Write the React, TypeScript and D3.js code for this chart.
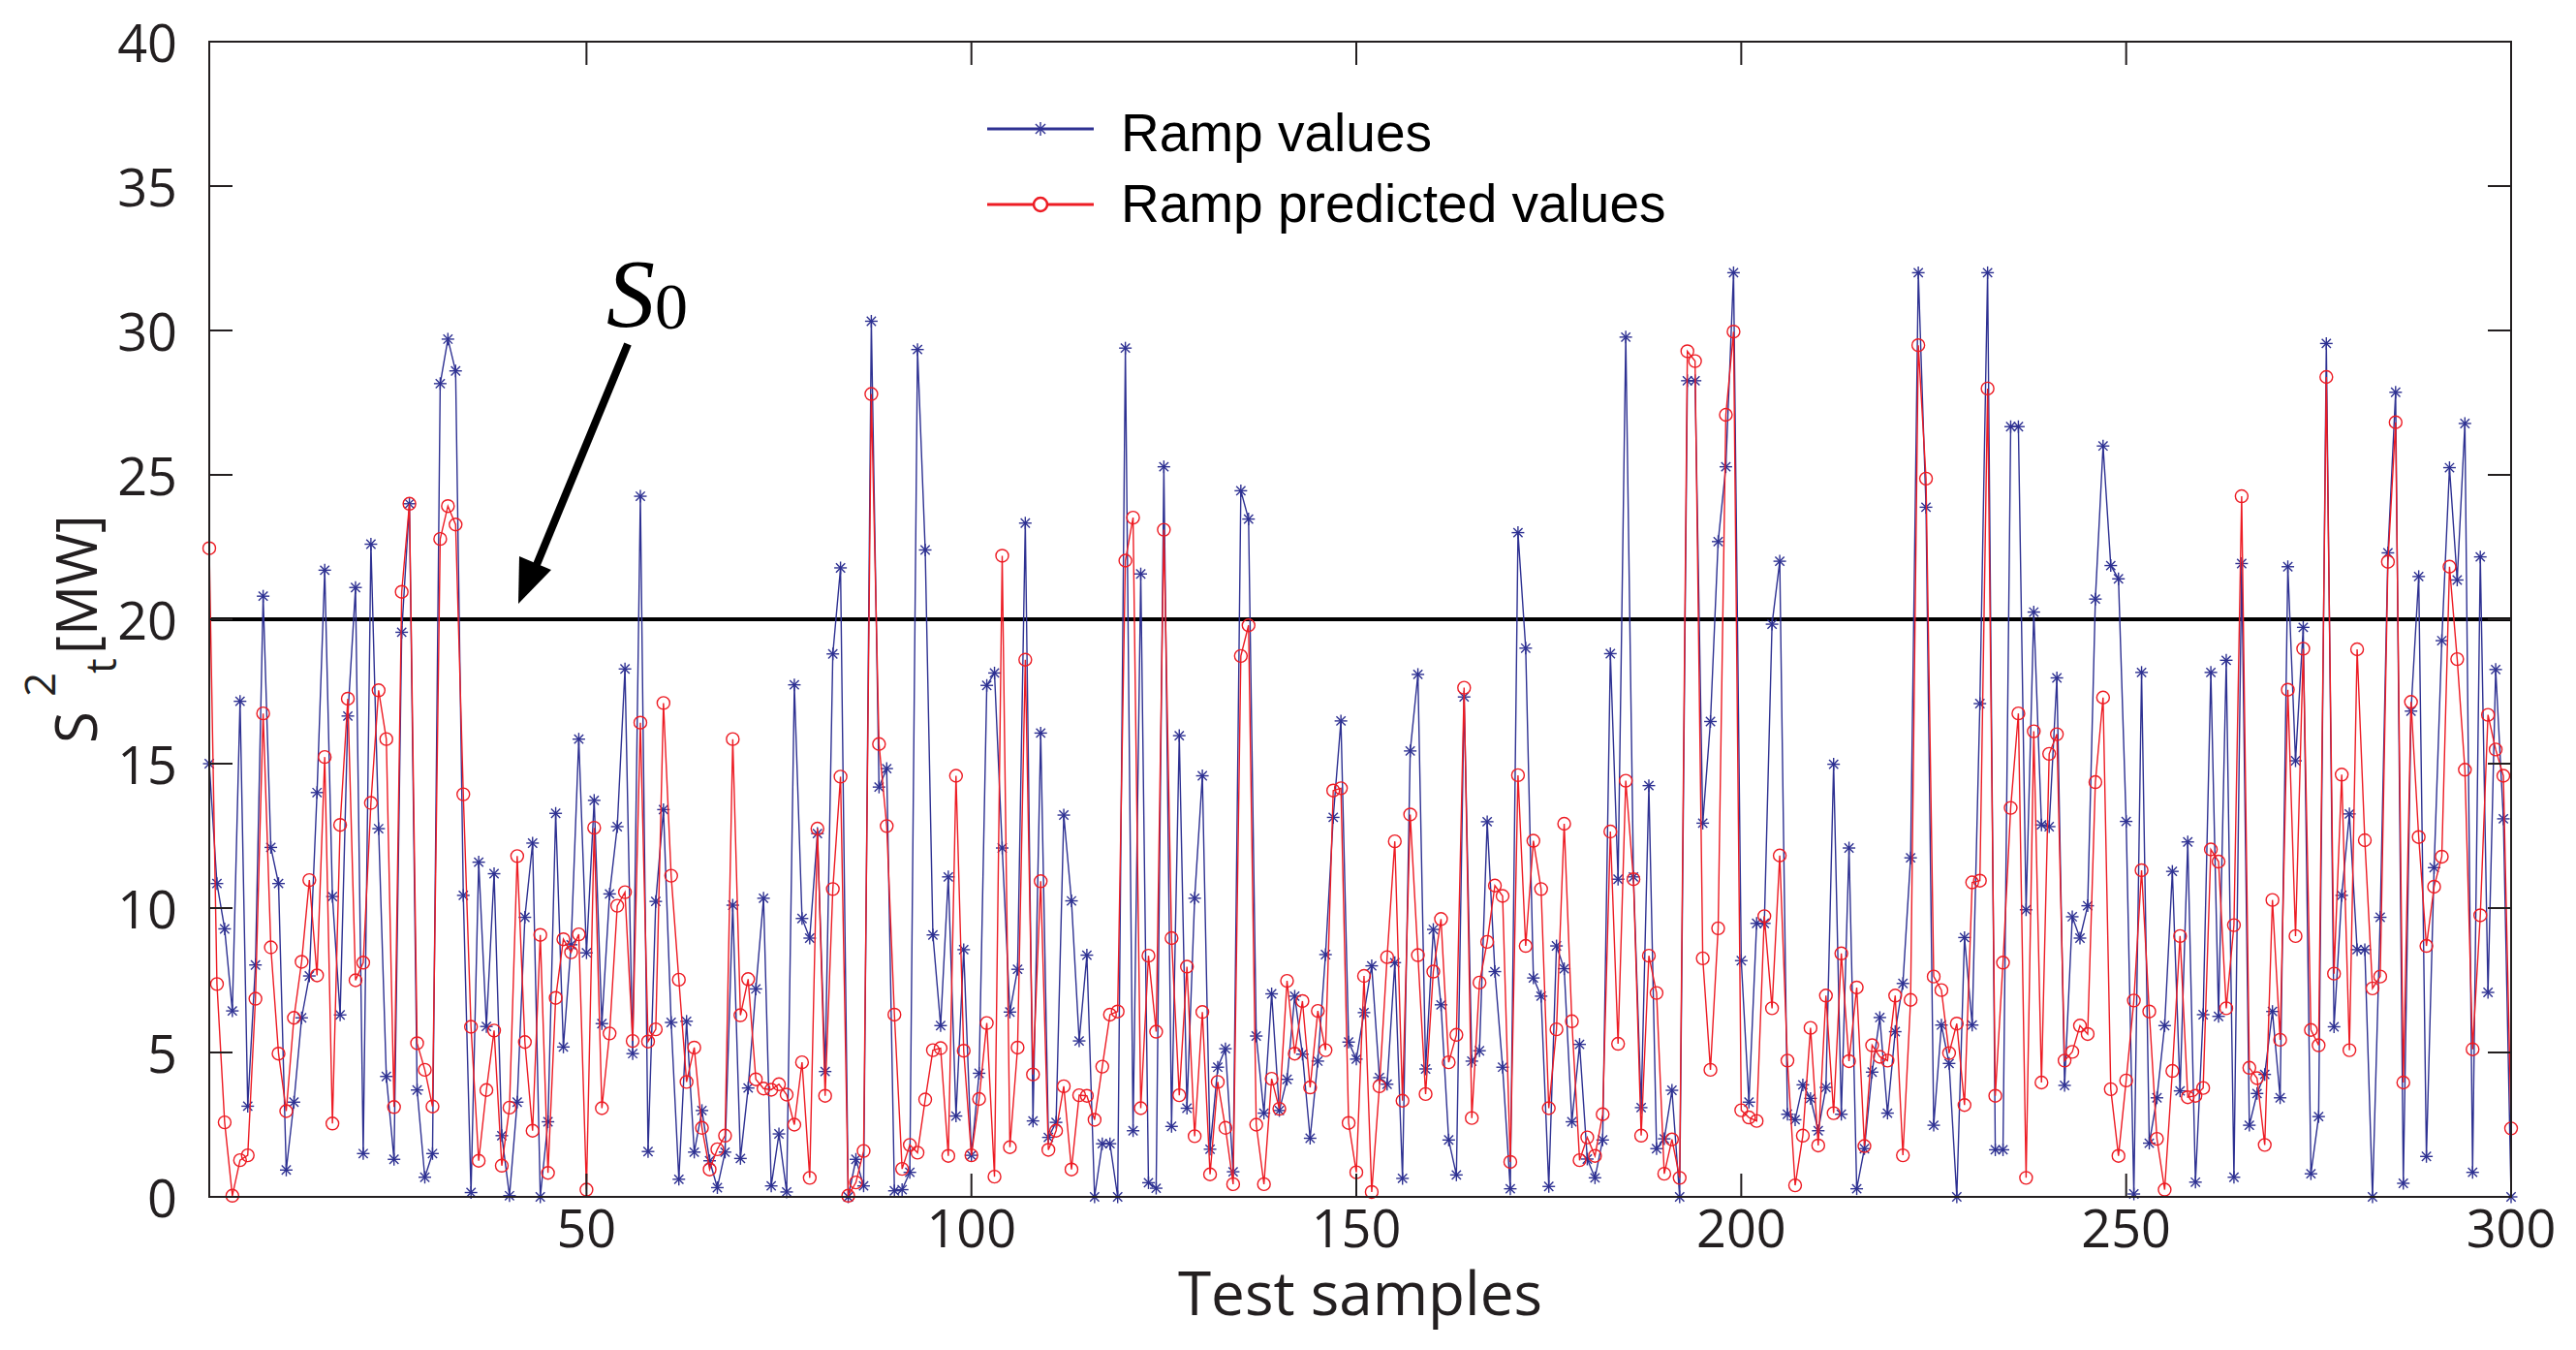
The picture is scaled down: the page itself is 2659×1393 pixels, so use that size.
import React from "react";
import * as d3 from "d3";

const rampValues: number[] = [
  15.0, 10.85, 9.28, 6.44, 17.16, 3.14, 8.03, 20.8, 12.1, 10.85, 0.93, 3.28, 6.2, 7.65, 14.0, 21.7, 10.4, 6.3, 16.65, 21.1, 1.5, 22.6, 12.75, 4.17, 1.3, 19.55, 24.0, 3.7, 0.68, 1.5,
  28.16, 29.7, 28.6, 10.44, 0.15, 11.59, 5.9, 11.19, 2.12, 0.04, 3.28, 9.68, 12.25, 0, 2.6, 13.28, 5.19, 8.73, 15.85, 8.45, 13.73, 6.0, 10.49, 12.82, 18.28, 4.96, 24.26, 1.57, 10.23, 13.41,
  6.04, 0.61, 6.08, 1.55, 2.99, 1.25, 0.32, 1.55, 10.1, 1.33, 3.77, 7.2, 10.34, 0.38, 2.18, 0.17, 17.73, 9.64, 8.96, 12.58, 4.34, 18.8, 21.78, 0, 1.3, 0.38, 30.32, 14.19, 14.83, 0.21,
  0.25, 0.85, 29.34, 22.4, 9.07, 5.93, 11.08, 2.8, 8.56, 1.44, 4.28, 17.71, 18.14, 12.08, 6.4, 7.88, 23.33, 2.63, 16.06, 2.06, 2.58, 13.22, 10.25, 5.4, 8.37, 0, 1.84, 1.84, 0, 29.39,
  2.29, 21.57, 0.49, 0.3, 25.28, 2.44, 15.97, 3.07, 10.34, 14.58, 1.65, 4.49, 5.13, 0.87, 24.45, 23.47, 5.57, 2.9, 7.03, 2.99, 4.07, 6.95, 4.94, 2.03, 4.7, 8.39, 13.14, 16.48, 5.36, 4.77,
  6.38, 8.0, 4.13, 3.9, 8.11, 0.64, 15.44, 18.09, 4.43, 9.26, 6.65, 1.97, 0.76, 17.31, 4.7, 5.06, 12.99, 7.8, 4.49, 0.28, 23.0, 19.0, 7.58, 6.95, 0.36, 8.69, 7.9, 2.6, 5.28, 1.31,
  0.66, 1.97, 18.81, 11.0, 29.77, 11.08, 3.09, 14.24, 1.67, 2.01, 3.69, 0, 28.26, 28.26, 12.94, 16.46, 22.69, 25.28, 32.0, 8.18, 3.28, 9.47, 9.47, 19.83, 22.01, 2.86, 2.67, 3.88, 3.41, 2.29,
  3.79, 14.98, 2.86, 12.08, 0.28, 1.67, 4.32, 6.21, 2.9, 5.72, 7.39, 11.74, 32.0, 23.88, 2.48, 5.95, 4.62, 0, 8.98, 5.95, 17.08, 32.0, 1.63, 1.63, 26.67, 26.67, 9.94, 20.25, 12.88, 12.82,
  17.97, 3.86, 9.7, 8.96, 10.08, 20.7, 26.0, 21.86, 21.4, 13.0, 0.1, 18.16, 1.86, 3.43, 5.93, 11.27, 3.67, 12.29, 0.51, 6.31, 18.16, 6.25, 18.58, 0.68, 21.93, 2.48, 3.58, 4.24, 6.42, 3.43,
  21.82, 15.1, 19.72, 0.8, 2.78, 29.55, 5.89, 10.44, 13.26, 8.56, 8.56, 0, 9.68, 22.3, 27.86, 0.47, 16.82, 21.48, 1.4, 11.4, 19.26, 25.25, 21.36, 26.78, 0.85, 22.16, 7.08, 18.26, 13.09, 0,
];

const predictedValues: number[] = [
  22.46, 7.37, 2.58, 0.04, 1.27, 1.44, 6.86, 16.74, 8.64, 4.96, 2.97, 6.2, 8.14, 10.97, 7.67, 15.23, 2.54, 12.88, 17.25, 7.5, 8.11, 13.64, 17.54, 15.85, 3.11, 20.95, 24.0, 5.32, 4.4, 3.13,
  22.78, 23.92, 23.28, 13.94, 5.89, 1.25, 3.7, 5.76, 1.08, 3.09, 11.8, 5.36, 2.29, 9.07, 0.83, 6.89, 8.92, 8.47, 9.09, 0.25, 12.78, 3.07, 5.66, 10.08, 10.55, 5.4, 16.42, 5.38, 5.8, 17.1,
  11.12, 7.52, 3.98, 5.17, 2.39, 0.95, 1.65, 2.12, 15.85, 6.29, 7.54, 4.07, 3.75, 3.71, 3.9, 3.54, 2.5, 4.66, 0.66, 12.75, 3.5, 10.66, 14.55, 0.04, 0.5, 1.59, 27.8, 15.68, 12.84, 6.31,
  0.97, 1.8, 1.53, 3.37, 5.08, 5.15, 1.42, 14.58, 5.06, 1.44, 3.39, 6.02, 0.7, 22.2, 1.72, 5.17, 18.6, 4.24, 10.93, 1.63, 2.29, 3.83, 0.95, 3.52, 3.5, 2.67, 4.51, 6.31, 6.42, 22.03,
  23.52, 3.07, 8.35, 5.72, 23.1, 8.96, 3.52, 7.97, 2.1, 6.4, 0.78, 3.98, 2.39, 0.44, 18.73, 19.79, 2.5, 0.44, 4.09, 3.05, 7.48, 4.96, 6.78, 3.79, 6.44, 5.08, 14.07, 14.15, 2.56, 0.85,
  7.65, 0.17, 3.83, 8.3, 12.31, 3.33, 13.24, 8.37, 3.56, 7.8, 9.62, 4.66, 5.61, 17.63, 2.73, 7.42, 8.83, 10.78, 10.42, 1.21, 14.6, 8.69, 12.33, 10.66, 3.07, 5.8, 12.92, 6.08, 1.27, 2.06,
  1.42, 2.86, 12.65, 5.3, 14.41, 11.0, 2.12, 8.35, 7.06, 0.8, 1.99, 0.66, 29.28, 28.94, 8.26, 4.4, 9.3, 27.08, 29.96, 3.0, 2.75, 2.63, 9.72, 6.53, 11.82, 4.72, 0.4, 2.12, 5.85, 1.78,
  6.97, 2.9, 8.43, 4.7, 7.25, 1.76, 5.25, 4.85, 4.72, 6.97, 1.44, 6.82, 29.49, 24.87, 7.63, 7.16, 4.98, 6.0, 3.18, 10.89, 10.95, 27.99, 3.5, 8.11, 13.47, 16.74, 0.66, 16.12, 3.96, 15.34,
  16.02, 4.72, 5.02, 5.93, 5.64, 14.36, 17.29, 3.73, 1.42, 4.03, 6.8, 11.31, 6.42, 2.01, 0.25, 4.36, 9.03, 3.45, 3.5, 3.77, 12.03, 11.61, 6.53, 9.41, 24.26, 4.47, 4.11, 1.8, 10.28, 5.44,
  17.56, 9.03, 18.98, 5.78, 5.25, 28.39, 7.73, 14.62, 5.08, 18.96, 12.35, 7.22, 7.63, 21.99, 26.82, 3.96, 17.14, 12.46, 8.69, 10.74, 11.78, 21.82, 18.62, 14.79, 5.11, 9.75, 16.69, 15.49, 14.58, 2.37,
];

const xTicks: number[] = [50, 100, 150, 200, 250, 300];
const yTicks: number[] = [0, 5, 10, 15, 20, 25, 30, 35, 40];
const threshold = 20;
const seriesNames: string[] = ["Ramp values", "Ramp predicted values"];

const W = 2659;
const H = 1393;
const BLUE = "#2E3192";
const RED = "#ED1C24";
const AXIS = "#231F20";
const TICK_FONT = "'Open Sans', 'Noto Sans', sans-serif";

const x = d3.scaleLinear().domain([1, 300]).range([216, 2592]);
const y = d3.scaleLinear().domain([0, 40]).range([1235, 43]);

const Asterisk = ({ cx, cy, r, color }: { cx: number; cy: number; r: number; color: string }) => {
  const d = r * 0.72;
  return (
    <g stroke={color} strokeWidth={1.4}>
      <line x1={cx - r} y1={cy} x2={cx + r} y2={cy} />
      <line x1={cx} y1={cy - r} x2={cx} y2={cy + r} />
      <line x1={cx - d} y1={cy - d} x2={cx + d} y2={cy + d} />
      <line x1={cx - d} y1={cy + d} x2={cx + d} y2={cy - d} />
    </g>
  );
};

export default function App() {
  const idx = d3.range(1, 301);
  const line = d3
    .line<number>()
    .x((_, i) => x(idx[i]))
    .y((v) => y(v));

  const [x0, x1] = x.range();
  const [yb, yt] = y.range();
  const tickLen = 24;

  return (
    <div style={{ position: "absolute", left: 0, top: 0, background: "#fff" }}>
      <svg width={W} height={H} viewBox={`0 0 ${W} ${H}`} style={{ display: "block" }}>
        <rect x={0} y={0} width={W} height={H} fill="#fff" />

        {/* threshold line */}
        <line x1={x0} x2={x1} y1={y(threshold)} y2={y(threshold)} stroke="#000" strokeWidth={4} />

        {/* series */}
        <path d={line(rampValues) || ""} fill="none" stroke={BLUE} strokeWidth={1.4} />
        {rampValues.map((v, i) => (
          <Asterisk key={"b" + i} cx={x(idx[i])} cy={y(v)} r={6.5} color={BLUE} />
        ))}
        <path d={line(predictedValues) || ""} fill="none" stroke={RED} strokeWidth={1.4} />
        {predictedValues.map((v, i) => (
          <circle key={"r" + i} cx={x(idx[i])} cy={y(v)} r={6.5} fill="none" stroke={RED} strokeWidth={1.4} />
        ))}

        {/* frame */}
        <rect x={x0} y={yt} width={x1 - x0} height={yb - yt} fill="none" stroke={AXIS} strokeWidth={2} />
        {yTicks.map((t) => (
          <g key={"yt" + t}>
            <line x1={x0} x2={x0 + tickLen} y1={y(t)} y2={y(t)} stroke={AXIS} strokeWidth={2} />
            <line x1={x1} x2={x1 - tickLen} y1={y(t)} y2={y(t)} stroke={AXIS} strokeWidth={2} />
            <text
              x={183}
              y={y(t)}
              textAnchor="end"
              dominantBaseline="central"
              fontFamily={TICK_FONT}
              fontSize={54}
              fill={AXIS}
            >
              {t}
            </text>
          </g>
        ))}
        {xTicks.map((t) => (
          <g key={"xt" + t}>
            <line x1={x(t)} x2={x(t)} y1={yb} y2={yb - tickLen} stroke={AXIS} strokeWidth={2} />
            <line x1={x(t)} x2={x(t)} y1={yt} y2={yt + tickLen} stroke={AXIS} strokeWidth={2} />
            <text x={x(t)} y={1287} textAnchor="middle" fontFamily={TICK_FONT} fontSize={54} fill={AXIS}>
              {t}
            </text>
          </g>
        ))}

        {/* x label */}
        <text x={1404} y={1357} textAnchor="middle" fontFamily={TICK_FONT} fontSize={62} fill={AXIS}>
          Test samples
        </text>

        {/* y label */}
        <g transform="translate(100, 763) rotate(-90)" fontFamily={TICK_FONT} fill={AXIS}>
          <text x={-4} y={0} fontSize={60}>S</text>
          <text x={44} y={-43} fontSize={44}>2</text>
          <text x={68} y={20} fontSize={44}>t</text>
          <text x={88} y={0} fontSize={58}>[MW]</text>
        </g>

        {/* legend */}
        <g fontFamily="'Liberation Sans', Arial, sans-serif" fontSize={55} fill="#000">
          <line x1={1019} x2={1129} y1={133} y2={133} stroke={BLUE} strokeWidth={3} />
          <Asterisk cx={1074} cy={133} r={7} color={BLUE} />
          <text x={1157} y={156}>{seriesNames[0]}</text>
          <line x1={1019} x2={1129} y1={211} y2={211} stroke={RED} strokeWidth={3} />
          <circle cx={1074} cy={211} r={7} fill="#fff" stroke={RED} strokeWidth={2.5} />
          <text x={1157} y={229}>{seriesNames[1]}</text>
        </g>

        {/* S0 annotation */}
        <text x={626} y={336} fontFamily="'Liberation Serif', 'DejaVu Serif', serif" fontStyle="italic" fontSize={100} fill="#000">
          S
        </text>
        <text x={676} y={339} fontFamily="'Liberation Serif', 'DejaVu Serif', serif" fontSize={68} fill="#000">
          0
        </text>
        <line x1={648} y1={355} x2={553} y2={585} stroke="#000" strokeWidth={8} />
        <polygon points="535,623 536,574 569,588" fill="#000" />
      </svg>
    </div>
  );
}
